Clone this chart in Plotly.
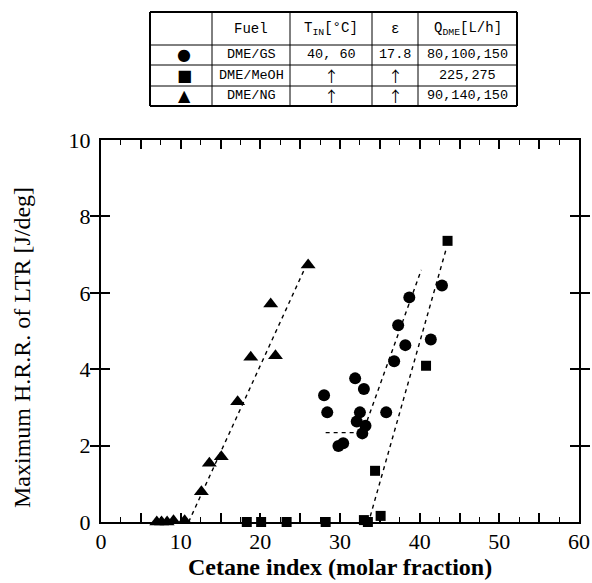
import plotly.graph_objects as go

# ---------------- data ----------------
gs_x = [42.8, 38.7, 37.3, 38.2, 41.4, 36.8, 31.9, 33.0, 28.0, 28.4, 32.5, 35.8, 32.1, 33.2, 32.8, 29.8, 30.4]
gs_y = [6.19, 5.88, 5.15, 4.63, 4.78, 4.21, 3.76, 3.48, 3.32, 2.87, 2.87, 2.87, 2.63, 2.52, 2.32, 1.99, 2.06]

meoh_x = [18.3, 20.1, 23.3, 28.2, 33.0, 33.5, 35.1, 34.4, 40.8, 43.5]
meoh_y = [0.0, 0.0, 0.0, 0.0, 0.05, 0.0, 0.16, 1.34, 4.09, 7.36]

ng_x = [7.0, 7.6, 8.3, 9.1, 10.5, 12.6, 13.6, 15.1, 17.15, 18.8, 21.9, 21.3, 26.0]
ng_y = [0.0, 0.0, 0.0, 0.03, 0.03, 0.79, 1.54, 1.71, 3.15, 4.31, 4.35, 5.71, 6.73]

# dashed trend lines
ng_line_x = [11.0, 25.5]
ng_line_y = [0.0, 6.6]
gs_flat_x = [28.2, 32.3]
gs_flat_y = [2.34, 2.34]
gs_line_x = [33.4, 40.2]
gs_line_y = [2.65, 6.6]
meoh_line_x = [33.8, 43.4]
meoh_line_y = [0.15, 7.2]

x_ticks = [0, 10, 20, 30, 40, 50, 60]
x_mid_ticks = [5, 15, 25, 35, 45, 55]
x_minor_ticks = [2.5, 7.5, 12.5, 17.5, 22.5, 27.5, 32.5, 37.5, 42.5, 47.5, 52.5, 57.5]
y_ticks = [0, 2, 4, 6, 8, 10]

# table content
tbl_header = ["", "Fuel", "T<sub>IN</sub>[°C]", "ε", "Q<sub>DME</sub>[L/h]"]
tbl_symbols = ["●", "■", "▲"]
tbl_fuel = ["DME/GS", "DME/MeOH", "DME/NG"]
tbl_tin = ["40, 60", "↑", "↑"]
tbl_eps = ["17.8", "↑", "↑"]
tbl_qdme = ["80,100,150", "225,275", "90,140,150"]

# ---------------- figure ----------------
W, H = 592, 583
fig = go.Figure()

dash_style = dict(color="black", width=1.4, dash="4px,4px")
for lx, ly in [(ng_line_x, ng_line_y), (gs_flat_x, gs_flat_y), (gs_line_x, gs_line_y), (meoh_line_x, meoh_line_y)]:
    fig.add_trace(go.Scatter(x=lx, y=ly, mode="lines", line=dash_style, showlegend=False, hoverinfo="skip"))

fig.add_trace(go.Scatter(x=gs_x, y=gs_y, mode="markers", name="DME/GS",
                         marker=dict(symbol="circle", size=12, color="black"), cliponaxis=False))
fig.add_trace(go.Scatter(x=meoh_x, y=meoh_y, mode="markers", name="DME/MeOH",
                         marker=dict(symbol="square", size=10, color="black"), cliponaxis=False))
fig.add_trace(go.Scatter(x=ng_x, y=ng_y, mode="markers", name="DME/NG",
                         marker=dict(symbol="triangle-up", size=13, color="black"), cliponaxis=False))

# plot area in pixels
PL, PR, PT, PB = 101, 579, 140, 522

def px(x):
    return x / W

def py(y):
    return 1 - y / H

serif = "Liberation Serif"
tick_font = dict(family=serif, size=22, color="black")
fig.update_layout(
    width=W, height=H,
    margin=dict(l=0, r=0, t=0, b=0, autoexpand=False),
    paper_bgcolor="white", plot_bgcolor="white",
    showlegend=False,
    font=dict(family=serif, color="black"),
    xaxis=dict(
        domain=[px(PL), px(PR)], range=[0, 60], automargin=False,
        tickmode="array", tickvals=x_ticks,
        ticks="inside", ticklen=9, tickwidth=1.5, tickcolor="black",
        showline=True, linewidth=2, linecolor="black", mirror="allticks",
        showgrid=False, zeroline=False, ticklabelstandoff=-1,
        tickfont=tick_font,
    ),
    xaxis2=dict(
        domain=[px(PL), px(PR)], range=[0, 60], overlaying="x", anchor="y", automargin=False,
        tickmode="array", tickvals=x_mid_ticks, showticklabels=False,
        ticks="inside", ticklen=9, tickwidth=1.5, tickcolor="black",
        minor=dict(tickmode="array", tickvals=x_minor_ticks, ticks="inside", ticklen=5,
                   tickwidth=1.2, tickcolor="black"),
        showline=False, mirror="allticks", showgrid=False, zeroline=False,
    ),
    yaxis=dict(
        domain=[py(PB), py(PT)], range=[0, 10], automargin=False,
        tickmode="array", tickvals=y_ticks,
        ticks="inside", ticklen=9, tickwidth=1.5, tickcolor="black",
        showline=True, linewidth=2, linecolor="black", mirror="allticks",
        showgrid=False, zeroline=False, ticklabelstandoff=4,
        tickfont=tick_font,
    ),
)
# invisible helper trace so the overlay axis with extra ticks is drawn
fig.add_trace(go.Scatter(x=[None], y=[None], xaxis="x2", yaxis="y", showlegend=False, hoverinfo="skip"))

annotations = [
    dict(text="<b>Cetane index (molar fraction)</b>", x=px(340), y=py(567), xref="paper", yref="paper",
         showarrow=False, font=dict(family=serif, size=24, color="black"), xanchor="center", yanchor="middle"),
    dict(text="Maximum H.R.R. of LTR [J/deg]", x=px(22), y=py(348), xref="paper", yref="paper",
         showarrow=False, textangle=-90, font=dict(family=serif, size=24, color="black"),
         xanchor="center", yanchor="middle"),
]

# ---------------- table (shapes + annotations) ----------------
col_edges = [150, 212, 290, 372, 418, 517]
row_edges = [12, 45, 65, 86, 106]
shapes = []
for i, cx in enumerate(col_edges):
    w = 2 if i in (0, len(col_edges) - 1) else 1
    shapes.append(dict(type="line", xref="paper", yref="paper", x0=px(cx), x1=px(cx),
                       y0=py(row_edges[0]), y1=py(row_edges[-1]), line=dict(color="black", width=w)))
for j, ry in enumerate(row_edges):
    w = 2 if j in (0, len(row_edges) - 1) else 1
    shapes.append(dict(type="line", xref="paper", yref="paper", x0=px(col_edges[0]), x1=px(col_edges[-1]),
                       y0=py(ry), y1=py(ry), line=dict(color="black", width=w)))

mono = "Liberation Mono"
col_centers = [(col_edges[i] + col_edges[i + 1]) / 2 for i in range(len(col_edges) - 1)]
row_centers = [(row_edges[i] + row_edges[i + 1]) / 2 for i in range(len(row_edges) - 1)]

for i, t in enumerate(tbl_header):
    if t:
        annotations.append(dict(text=t, x=px(col_centers[i]), y=py(row_centers[0]), xref="paper", yref="paper",
                                showarrow=False, font=dict(family=mono, size=14, color="black"),
                                xanchor="center", yanchor="middle"))
columns = [tbl_symbols, tbl_fuel, tbl_tin, tbl_eps, tbl_qdme]
for ci, col in enumerate(columns):
    for ri, t in enumerate(col):
        if ci == 0:
            fam, size = "DejaVu Sans", 16
        elif t == "↑":
            fam, size = "Noto Sans CJK JP", 15
        else:
            fam, size = mono, 13.5
        annotations.append(dict(text=t, x=px(col_centers[ci] + (3 if ci == 0 else 0)), y=py(row_centers[ri + 1]),
                                xref="paper", yref="paper", showarrow=False,
                                font=dict(family=fam, size=size, color="black"),
                                xanchor="center", yanchor="middle"))

fig.update_layout(shapes=shapes, annotations=annotations)

fig.write_html("out.html")
